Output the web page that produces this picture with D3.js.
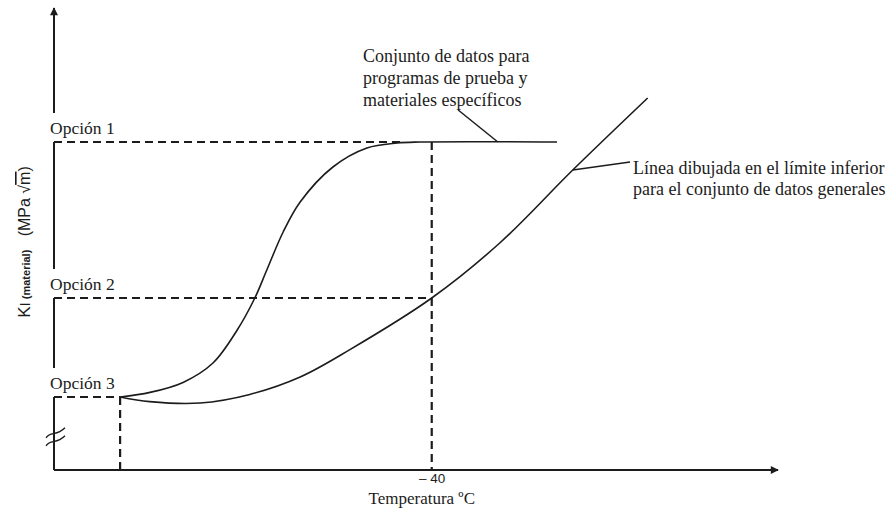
<!DOCTYPE html>
<html>
<head>
<meta charset="utf-8">
<script src="https://cdn.jsdelivr.net/npm/d3@7"></script>
<style>
  html, body { margin: 0; padding: 0; background: #fff; }
  svg { display: block; }
</style>
</head>
<body>
<svg id="chart" width="886" height="508"></svg>
<script>
// ---------- data (schematic units: temperature °C, K_I arbitrary) ----------
const optionLabels = ["Opción 1", "Opción 2", "Opción 3"];
const optionValues = [82, 43, 18.25];
const xTickValues = [-40];
const xTickLabels = ["\u2013 40"];
const optionTemps = [-44.3, -40, -89.5];   // where each option meets its curve

// curve for specific materials/test programmes (S-shaped + upper shelf)
const specificT = [-89.5, -84.75, -79.5, -74.75, -70.9, -68.1, -66.2, -63.6, -60.9, -55.7, -50.3, -45.5, -41.9, -20.1];
const specificK = [18.25, 19.4, 21.9, 26.75, 35, 43, 50, 59.5, 67, 75.75, 80.5, 81.75, 82, 82];

// lower-bound curve for general data set
const lowerT = [-89.5, -84.8, -76.8, -68.9, -60.9, -53, -40, -29.2, -17.6, -5.7];
const lowerK = [18.25, 17.1, 16.75, 18.9, 23.25, 30.1, 43, 56.75, 75, 93];

const note1Lines = ["Conjunto de datos para", "programas de prueba y", "materiales específicos"];
const note2Lines = ["Línea dibujada en el límite inferior", "para el conjunto de datos generales"];
const note1Leader = [[-35.8, 90], [-29.5, 82]];
const note2Leader = [[-17.6, 75], [-8.5, 77]];
const xTitle = "Temperatura ºC";

// ---------- scales ----------
const serif = "'Liberation Serif', 'Times New Roman', 'DejaVu Serif', serif";
const sans = "'Liberation Sans', Arial, 'DejaVu Sans', sans-serif";
const svg = d3.select("#chart");
const ink = "#1c1c1c";
const x = d3.scaleLinear().domain([-100, 15]).range([54, 778]);
const y = d3.scaleLinear().domain([0, 115]).range([470, 10]);
const x0 = x(-100), y0 = y(0);

const defs = svg.append("defs");
defs.append("marker").attr("id", "arrow").attr("viewBox", "0 0 10 10")
  .attr("refX", 9).attr("refY", 5).attr("markerWidth", 11).attr("markerHeight", 8)
  .attr("markerUnits", "userSpaceOnUse").attr("orient", "auto")
  .append("path").attr("d", "M0,0 L10,5 L0,10 Z").attr("fill", ink);
defs.append("marker").attr("id", "arrowY").attr("viewBox", "0 0 10 10")
  .attr("refX", 9).attr("refY", 5).attr("markerWidth", 18).attr("markerHeight", 8)
  .attr("markerUnits", "userSpaceOnUse").attr("orient", "auto")
  .append("path").attr("d", "M0,0 L10,5 L0,10 Z").attr("fill", ink);

// ---------- x axis ----------
svg.append("line").attr("x1", x0).attr("y1", y0).attr("x2", x(15)).attr("y2", y0)
  .attr("stroke", ink).attr("stroke-width", 2).attr("marker-end", "url(#arrow)");

const xAxis = d3.axisBottom(x).tickValues(xTickValues).tickSize(0).tickPadding(3)
  .tickFormat((d, i) => xTickLabels[i]);
const gx = svg.append("g").attr("transform", `translate(0,${y0})`).call(xAxis);
gx.select(".domain").remove();
gx.selectAll("text").attr("font-family", sans).attr("font-size", 13.5).attr("fill", ink)
  .attr("dy", "0.72em");

svg.append("text").attr("font-family", serif).attr("x", x(-40) - 10).attr("y", y0 + 34)
  .attr("text-anchor", "middle").attr("font-size", 17).attr("fill", ink).text(xTitle);

// ---------- y axis (segmented, gaps for labels) ----------
const gapPx = 29;
const sorted = optionValues.slice().sort((a, b) => a - b);
let bottom = y0;
sorted.forEach(v => {
  svg.append("line").attr("x1", x0).attr("x2", x0).attr("y1", bottom).attr("y2", y(v))
    .attr("stroke", ink).attr("stroke-width", 2);
  bottom = y(v) - gapPx;
});
svg.append("line").attr("x1", x0).attr("x2", x0).attr("y1", bottom).attr("y2", y(115) - 2)
  .attr("stroke", ink).attr("stroke-width", 2).attr("marker-end", "url(#arrowY)");

// axis break symbol
const by = y(8.3);
[-4, 4].forEach(off => {
  svg.append("path")
    .attr("d", `M${x0 - 8},${by + off + 5} C${x0 - 3},${by + off - 2} ${x0 + 2},${by + off + 4} ${x0 + 11},${by + off - 5}`)
    .attr("fill", "none").attr("stroke", ink).attr("stroke-width", 1.4);
});

// y axis title
const yt = svg.append("text").attr("font-family", sans).attr("fill", ink)
  .attr("transform", `translate(30,${y(57)}) rotate(-90)`).attr("text-anchor", "middle");
yt.append("tspan").attr("font-size", 17).text("K");
yt.append("tspan").attr("font-size", 15).text("I");
yt.append("tspan").attr("font-size", 11).attr("font-weight", "bold").text(" (material)");
yt.append("tspan").attr("font-size", 16).text("\u00a0\u00a0\u00a0(MPa ");
yt.append("tspan").attr("font-size", 16).text("\u221A");
yt.append("tspan").attr("font-size", 16).attr("text-decoration", "overline").text("m");
yt.append("tspan").attr("font-size", 16).text(")");

// ---------- option labels & dashed reference lines ----------
optionLabels.forEach((lab, i) => {
  const v = optionValues[i];
  svg.append("text").attr("font-family", serif).attr("x", x0 - 4).attr("y", y(v) - 8)
    .attr("font-size", 17.5).attr("fill", ink).text(lab);
  svg.append("line").attr("x1", x0).attr("x2", x(optionTemps[i])).attr("y1", y(v)).attr("y2", y(v))
    .attr("stroke", ink).attr("stroke-width", 2).attr("stroke-dasharray", "8,5");
});
// vertical dashed lines
[optionTemps[2], xTickValues[0]].forEach((t, i) => {
  const top = i === 0 ? optionValues[2] : optionValues[0];
  svg.append("line").attr("x1", x(t)).attr("x2", x(t)).attr("y1", y(top)).attr("y2", y0)
    .attr("stroke", ink).attr("stroke-width", 2.2).attr("stroke-dasharray", "8,5");
});

// ---------- curves ----------
const line = d3.line().x(d => x(d[0])).y(d => y(d[1])).curve(d3.curveCatmullRom.alpha(0.5));
svg.append("path").datum(specificT.map((t, i) => [t, specificK[i]]))
  .attr("d", line).attr("fill", "none").attr("stroke", ink).attr("stroke-width", 1.6);
svg.append("path").datum(lowerT.map((t, i) => [t, lowerK[i]]))
  .attr("d", line).attr("fill", "none").attr("stroke", ink).attr("stroke-width", 1.6);

// ---------- annotations ----------
const straight = d3.line().x(d => x(d[0])).y(d => y(d[1]));
[note1Leader, note2Leader].forEach(l => {
  svg.append("path").attr("d", straight(l)).attr("fill", "none")
    .attr("stroke", ink).attr("stroke-width", 1.5);
});
note1Lines.forEach((t, i) => {
  svg.append("text").attr("font-family", serif).attr("x", 363).attr("y", 62 + i * 22)
    .attr("font-size", 18).attr("fill", ink).text(t);
});
note2Lines.forEach((t, i) => {
  svg.append("text").attr("font-family", serif).attr("x", 633).attr("y", 174 + i * 21)
    .attr("font-size", 18).attr("fill", ink).text(t);
});
</script>
</body>
</html>
